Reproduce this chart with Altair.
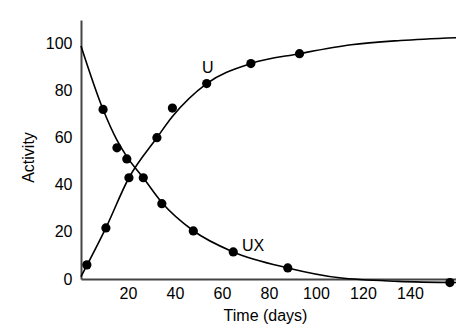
import altair as alt
import pandas as pd

# Data points
u_t = [2.5, 10.6, 20.4, 32.3, 38.9, 53.5, 72.3, 93.0]
u_a = [6.0, 21.7, 43.0, 60.0, 72.6, 83.0, 91.5, 95.7]
ux_t = [9.4, 15.3, 19.5, 26.5, 34.4, 47.8, 64.8, 88.0, 157.0]
ux_a = [72.0, 55.7, 51.0, 43.0, 32.0, 20.4, 11.5, 4.7, -1.5]

# Curves
cu_t = [0, 10.6, 20.4, 32.3, 38.9, 53.5, 72.3, 93.0, 115.0, 136.0, 160.0]
cu_a = [1.0, 21.7, 43.0, 60.0, 69.0, 83.0, 91.5, 95.7, 99.5, 101.3, 102.5]
cux_t = [0, 9.4, 15.3, 19.5, 26.5, 34.4, 47.8, 64.8, 88.0, 110.0, 135.0, 160.0]
cux_a = [99.0, 72.0, 59.0, 52.0, 43.0, 32.5, 20.5, 11.5, 4.7, 0.5, -1.0, -1.5]

labels = ["U", "UX"]
label_t = [54.0, 73.2]
label_a = [89.6, 14.0]

x_ticks = [20, 40, 60, 80, 100, 120, 140]
y_ticks = [0, 20, 40, 60, 80, 100]

pts = pd.DataFrame({
    "t": u_t + ux_t,
    "a": u_a + ux_a,
    "s": ["U"] * len(u_t) + ["UX"] * len(ux_t),
})
curves = pd.DataFrame({
    "t": cu_t + cux_t,
    "a": cu_a + cux_a,
    "s": ["U"] * len(cu_t) + ["UX"] * len(cux_t),
})
lab = pd.DataFrame({"t": label_t, "a": label_a, "text": labels})

FONT = "Liberation Sans"

X = alt.X("t:Q",
          scale=alt.Scale(domain=[0, 159.6], nice=False, zero=False),
          axis=alt.Axis(values=x_ticks, title="Time (days)", ticks=False, grid=False,
                        labelPadding=6, titleX=184, titleY=36, titleBaseline="middle",
                        titleAlign="center"))
Y = alt.Y("a:Q",
          scale=alt.Scale(domain=[0, 110], nice=False, zero=False),
          axis=alt.Axis(values=y_ticks, title="Activity", ticks=False, grid=False,
                        labelPadding=9, titleX=-53, titleY=137, titleBaseline="middle",
                        titleAlign="center"))

line = alt.Chart(curves).mark_line(
    interpolate="monotone", color="black", strokeWidth=1.6, clip=False
).encode(x=X, y=Y, detail="s:N", order="t:Q")

dots = alt.Chart(pts).mark_circle(
    size=85, color="black", opacity=1, clip=False
).encode(x=X, y=Y)

txt = alt.Chart(lab).mark_text(
    font=FONT, fontSize=16, color="black", align="center", baseline="middle"
).encode(x=X, y=Y, text="text:N")

chart = alt.layer(line, dots, txt).properties(
    width=375, height=259,
    padding={"left": 81, "top": 20, "right": 0, "bottom": 46},
    autosize=alt.AutoSizeParams(type="none"),
    background="white",
).configure_view(stroke=None).configure_axis(
    domainColor="#444", domainWidth=2,
    labelFont=FONT, labelFontSize=16, labelColor="black",
    titleFont=FONT, titleFontSize=16, titleFontWeight="normal", titleColor="black",
)

chart.save("out.html", embed_options={"renderer": "svg", "actions": False})
